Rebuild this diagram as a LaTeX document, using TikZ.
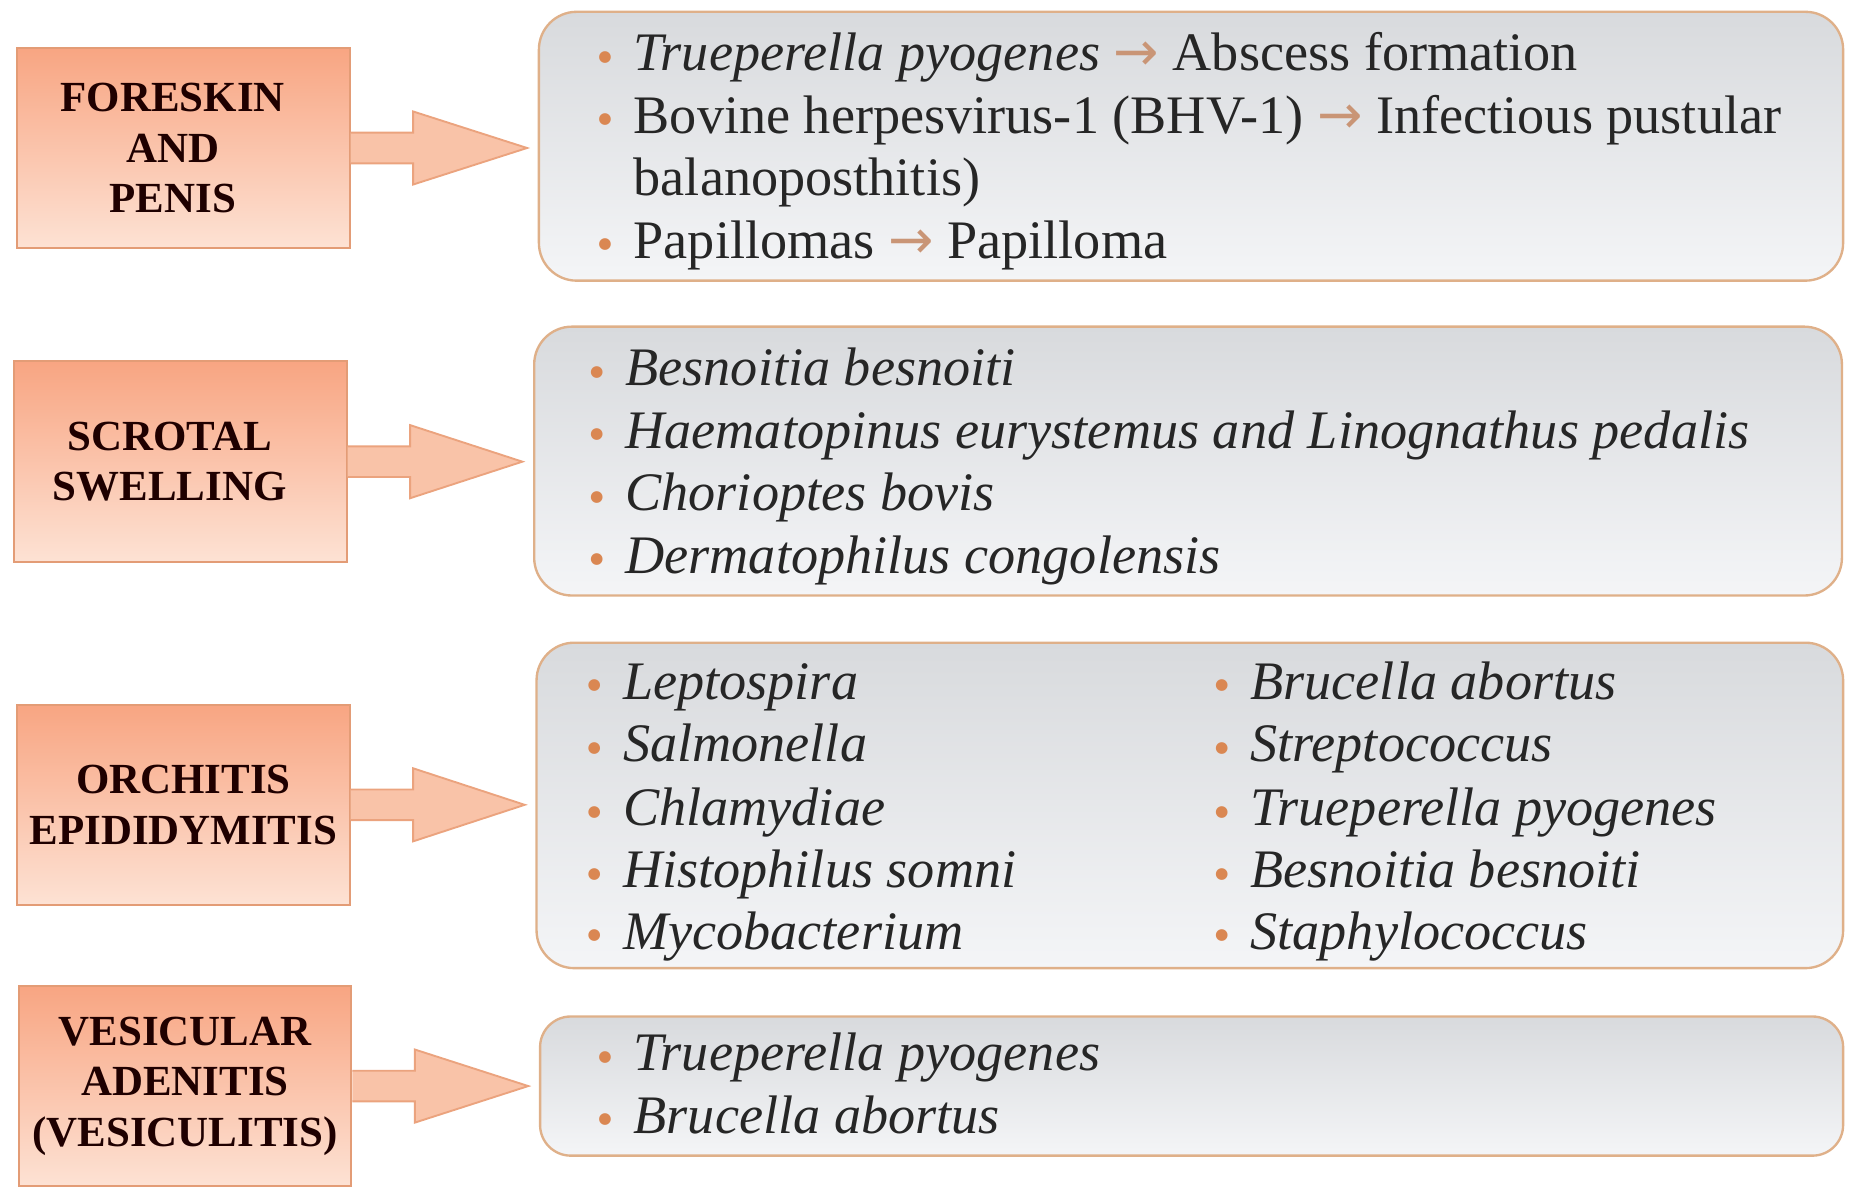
\documentclass[tikz,border=0pt]{standalone}
\usepackage{fontspec}
\setmainfont{Liberation Serif}
\newfontfamily\djv{DejaVu Sans}
\usetikzlibrary{calc}
\definecolor{lblTop}{HTML}{F8A582}
\definecolor{lblBot}{HTML}{FDE2D4}
\definecolor{lblLine}{HTML}{E39C76}
\definecolor{arrFill}{HTML}{F9C3A8}
\definecolor{arrLine}{HTML}{EBA37E}
\definecolor{boxTop}{HTML}{D8DADD}
\definecolor{boxBot}{HTML}{F4F5F7}
\definecolor{boxLine}{HTML}{DFB089}
\definecolor{bulc}{HTML}{DA8752}
\definecolor{txtarr}{HTML}{C99576}
\newcommand\bul{\makebox[15pt][l]{\raisebox{4pt}{\djv\fontsize{6.5}{7}\selectfont\textcolor{bulc}{●}}}}
\newcommand\tarr{{\djv\textcolor{txtarr}{→}}}
\newcommand\lsh[1]{\makebox[0pt]{#1\hspace*{9pt}}}
\newcommand\blkarrow[2]{\draw[blockarr] ($(#1.east)+(0,-13)$) -- ($(#1.east)+(53,-13)$) -- ($(#1.east)+(53,-31)$) -- ($(#1.east -| #2.west)+(-9,0)$) -- ($(#1.east)+(53,31)$) -- ($(#1.east)+(53,13)$) -- ($(#1.east)+(0,13)$);}
\tikzset{
  lbl/.style={draw=lblLine, line width=0.8pt, top color=lblTop, bottom color=lblBot,
    font=\fontsize{18.2}{21.5}\selectfont\bfseries, align=center, inner sep=0pt,
    minimum width=141pt, minimum height=85pt, text=black!88!red},
  rbox/.style={draw=boxLine, line width=1pt, top color=boxTop, bottom color=boxBot,
    rounded corners=16pt, inner sep=0pt},
  blockarr/.style={draw=arrLine, line width=0.8pt, fill=arrFill, line join=miter},
  itm/.style={anchor=base west, inner sep=0pt, font=\fontsize{23}{26.5}\selectfont, text=black!85}
}
\begin{document}
\begin{tikzpicture}[x=0.5pt, y=-0.5pt]
\useasboundingbox (0,0) rectangle (1568,1008);
% left labels
\node[lbl] (l1) at (155.5,125.5) {\lsh{FORESKIN}\\\lsh{AND}\\\lsh{PENIS}};
\node[lbl] (l2) at (153,391.5) {\lsh{SCROTAL}\\\lsh{SWELLING}};
\node[lbl] (l3) at (155.5,682.5) {ORCHITIS\\EPIDIDYMITIS};
\node[lbl] (l4) at (157,921) {VESICULAR\\ADENITIS\\(VESICULITIS)};
% right boxes
\node[rbox, minimum width=553pt, minimum height=114pt] (r1) at (1010,124) {};
\node[rbox, minimum width=554.5pt, minimum height=114pt] (r2) at (1007.5,391) {};
\node[rbox, minimum width=554pt, minimum height=138pt] (r3) at (1009,683) {};
\node[rbox, minimum width=552.5pt, minimum height=59pt, rounded corners=13pt] (r4) at (1010.5,921) {};
% arrows
\blkarrow{l1}{r1}
\blkarrow{l2}{r2}
\blkarrow{l3}{r3}
\blkarrow{l4}{r4}
% box 1
\node[itm] (a1) at (507,60) {\bul\textit{Trueperella pyogenes} \tarr{} Abscess formation};
\node[itm] (a2) at (507,113) {\bul Bovine herpesvirus-1 (BHV-1) \tarr{} Infectious pustular};
\node[itm] (a3) at (537,166) {balanoposthitis)};
\node[itm] (a4) at (507,219) {\bul Papillomas \tarr{} Papilloma};
% box 2
\node[itm] (b1) at (500,327) {\bul\textit{Besnoitia besnoiti}};
\node[itm] (b2) at (500,380) {\bul\textit{Haematopinus eurystemus and Linognathus pedalis}};
\node[itm] (b3) at (500,433) {\bul\textit{Chorioptes bovis}};
\node[itm] (b4) at (500,486) {\bul\textit{Dermatophilus congolensis}};
% box 3 left
\node[itm] (c1) at (498,593) {\bul\textit{Leptospira}};
\node[itm] (c2) at (498,646) {\bul\textit{Salmonella}};
\node[itm] (c3) at (498,700) {\bul\textit{Chlamydiae}};
\node[itm] (c4) at (498,753) {\bul\textit{Histophilus somni}};
\node[itm] (c5) at (498,805) {\bul\textit{Mycobacterium}};
% box 3 right
\node[itm] (d1) at (1030,593) {\bul\textit{Brucella abortus}};
\node[itm] (d2) at (1030,646) {\bul\textit{Streptococcus}};
\node[itm] (d3) at (1030,700) {\bul\textit{Trueperella pyogenes}};
\node[itm] (d4) at (1030,753) {\bul\textit{Besnoitia besnoiti}};
\node[itm] (d5) at (1030,805) {\bul\textit{Staphylococcus}};
% box 4
\node[itm] (e1) at (507,908) {\bul\textit{Trueperella pyogenes}};
\node[itm] (e2) at (507,961) {\bul\textit{Brucella abortus}};
\end{tikzpicture}
\end{document}
